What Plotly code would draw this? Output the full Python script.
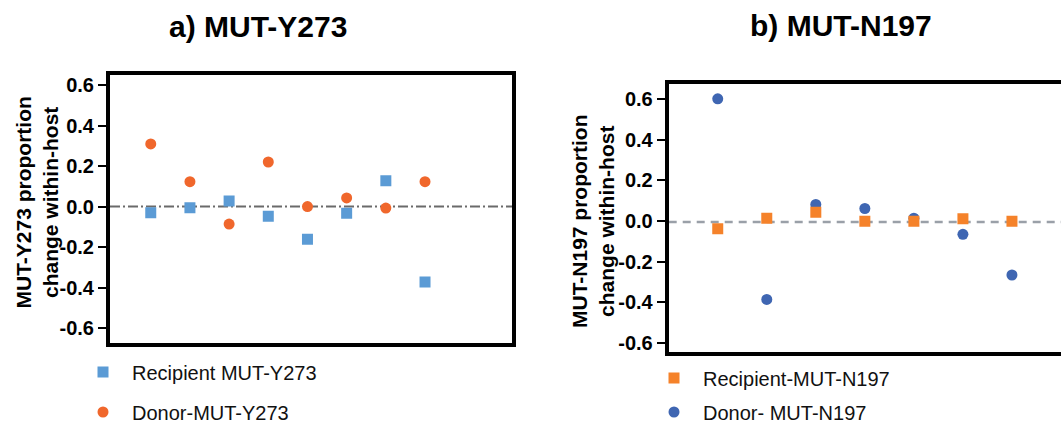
import plotly.graph_objects as go

# ---- data ----
x_y273 = [1, 2, 3, 4, 5, 6, 7, 8]
recipient_y273 = [-0.030, -0.005, 0.028, -0.048, -0.161, -0.033, 0.127, -0.372]
donor_y273 = [0.309, 0.123, -0.086, 0.220, 0.000, 0.043, -0.007, 0.123]

x_n197 = [1, 2, 3, 4, 5, 6, 7]
donor_n197 = [0.600, -0.386, 0.081, 0.061, 0.013, -0.066, -0.266]
recipient_n197 = [-0.038, 0.013, 0.043, -0.002, -0.002, 0.010, -0.002]

tick_vals = [0.6, 0.4, 0.2, 0.0, -0.2, -0.4, -0.6]
tick_text = ["0.6", "0.4", "0.2", "0.0", "-0.2", "-0.4", "-0.6"]

W, H = 1061, 423
FONT = "Liberation Sans, Arial, sans-serif"

C_BLUE_L = "#5b9bd5"
C_ORANGE_L = "#f0672c"
C_ORANGE_R = "#f5822a"
C_BLUE_R = "#3f66b2"

fig = go.Figure()

fig.add_trace(go.Scatter(x=x_y273, y=recipient_y273, mode="markers", name="Recipient MUT-Y273",
                         marker=dict(symbol="square", size=11, color=C_BLUE_L, line=dict(width=0)),
                         xaxis="x", yaxis="y", legend="legend"))
fig.add_trace(go.Scatter(x=x_y273, y=donor_y273, mode="markers", name="Donor-MUT-Y273",
                         marker=dict(symbol="circle", size=11, color=C_ORANGE_L, line=dict(width=0)),
                         xaxis="x", yaxis="y", legend="legend2"))
fig.add_trace(go.Scatter(x=x_n197, y=donor_n197, mode="markers", name="Donor- MUT-N197",
                         marker=dict(symbol="circle", size=11, color=C_BLUE_R, line=dict(width=0)),
                         xaxis="x2", yaxis="y2", legend="legend4"))
fig.add_trace(go.Scatter(x=x_n197, y=recipient_n197, mode="markers", name="Recipient-MUT-N197",
                         marker=dict(symbol="square", size=11, color=C_ORANGE_R, line=dict(width=0)),
                         xaxis="x2", yaxis="y2", legend="legend3"))

axis_common = dict(showgrid=False, zeroline=False, showline=True, linecolor="black", linewidth=4)
tickfont = dict(size=20, family=FONT, color="black", weight="bold")

fig.update_layout(
    width=W, height=H,
    margin=dict(l=0, r=0, t=0, b=0, autoexpand=False),
    paper_bgcolor="white", plot_bgcolor="white",
    font=dict(family=FONT, color="black"),
    showlegend=True,
    xaxis=dict(domain=[110 / W, 512 / W], range=[-0.04, 10.22], anchor="y",
               showticklabels=False, ticks="", mirror=True, **axis_common),
    yaxis=dict(domain=[1 - 342.7 / H, 1 - 75 / H], range=[-0.671, 0.649], anchor="x",
               tickvals=tick_vals, ticktext=tick_text, ticks="outside", ticklen=8, tickwidth=2,
               tickcolor="black", mirror=True, tickfont=tickfont, **axis_common),
    xaxis2=dict(domain=[668.7 / W, 1.0], range=[0, 8.0], anchor="y2",
                showticklabels=False, ticks="", mirror=True, **axis_common),
    yaxis2=dict(domain=[1 - 351.7 / H, 1 - 84 / H], range=[-0.643, 0.673], anchor="x2",
                tickvals=tick_vals, ticktext=tick_text, ticks="outside", ticklen=8, tickwidth=2,
                tickcolor="black", mirror=False, tickfont=tickfont, **axis_common),
)

leg_common = dict(bgcolor="rgba(0,0,0,0)", borderwidth=0, xanchor="left", yanchor="middle",
                  font=dict(size=20, family=FONT, color="#111111"), itemwidth=48)
fig.update_layout(
    legend=dict(x=74 / W, y=1 - 372 / H, **leg_common),
    legend2=dict(x=74 / W, y=1 - 412 / H, **leg_common),
    legend3=dict(x=645 / W, y=1 - 378 / H, **leg_common),
    legend4=dict(x=645 / W, y=1 - 412 / H, **leg_common),
)

# zero reference lines
fig.add_shape(type="line", xref="x domain", yref="y", x0=0, x1=1.012, y0=0, y1=0,
              line=dict(color="#6a6a6a", width=2, dash="10px,3px,2px,3px"), layer="below")
fig.add_shape(type="line", xref="x2 domain", yref="y2", x0=0, x1=1, y0=-0.005, y1=-0.005,
              line=dict(color="#9aa0a8", width=2.5, dash="8px,6px"), layer="below")

# panel titles
fig.add_annotation(text="<b>a) MUT-Y273</b>", xref="paper", yref="paper", x=258 / W, y=1 - 27 / H,
                   showarrow=False, xanchor="center", yanchor="middle",
                   font=dict(size=30, family=FONT, color="black"))
fig.add_annotation(text="<b>b) MUT-N197</b>", xref="paper", yref="paper", x=841 / W, y=1 - 26 / H,
                   showarrow=False, xanchor="center", yanchor="middle",
                   font=dict(size=30, family=FONT, color="black"))

# y axis titles
fig.add_annotation(text="<b>MUT-Y273 proportion<br>change within-host</b>", xref="paper", yref="paper",
                   x=36.5 / W, y=1 - 203 / H, showarrow=False, textangle=-90,
                   xanchor="center", yanchor="middle",
                   font=dict(size=21, family=FONT, color="black"))
fig.add_annotation(text="<b>MUT-N197 proportion<br>change within-host</b>", xref="paper", yref="paper",
                   x=593 / W, y=1 - 221 / H, showarrow=False, textangle=-90,
                   xanchor="center", yanchor="middle",
                   font=dict(size=21, family=FONT, color="black"))

fig.write_html("out.html")
